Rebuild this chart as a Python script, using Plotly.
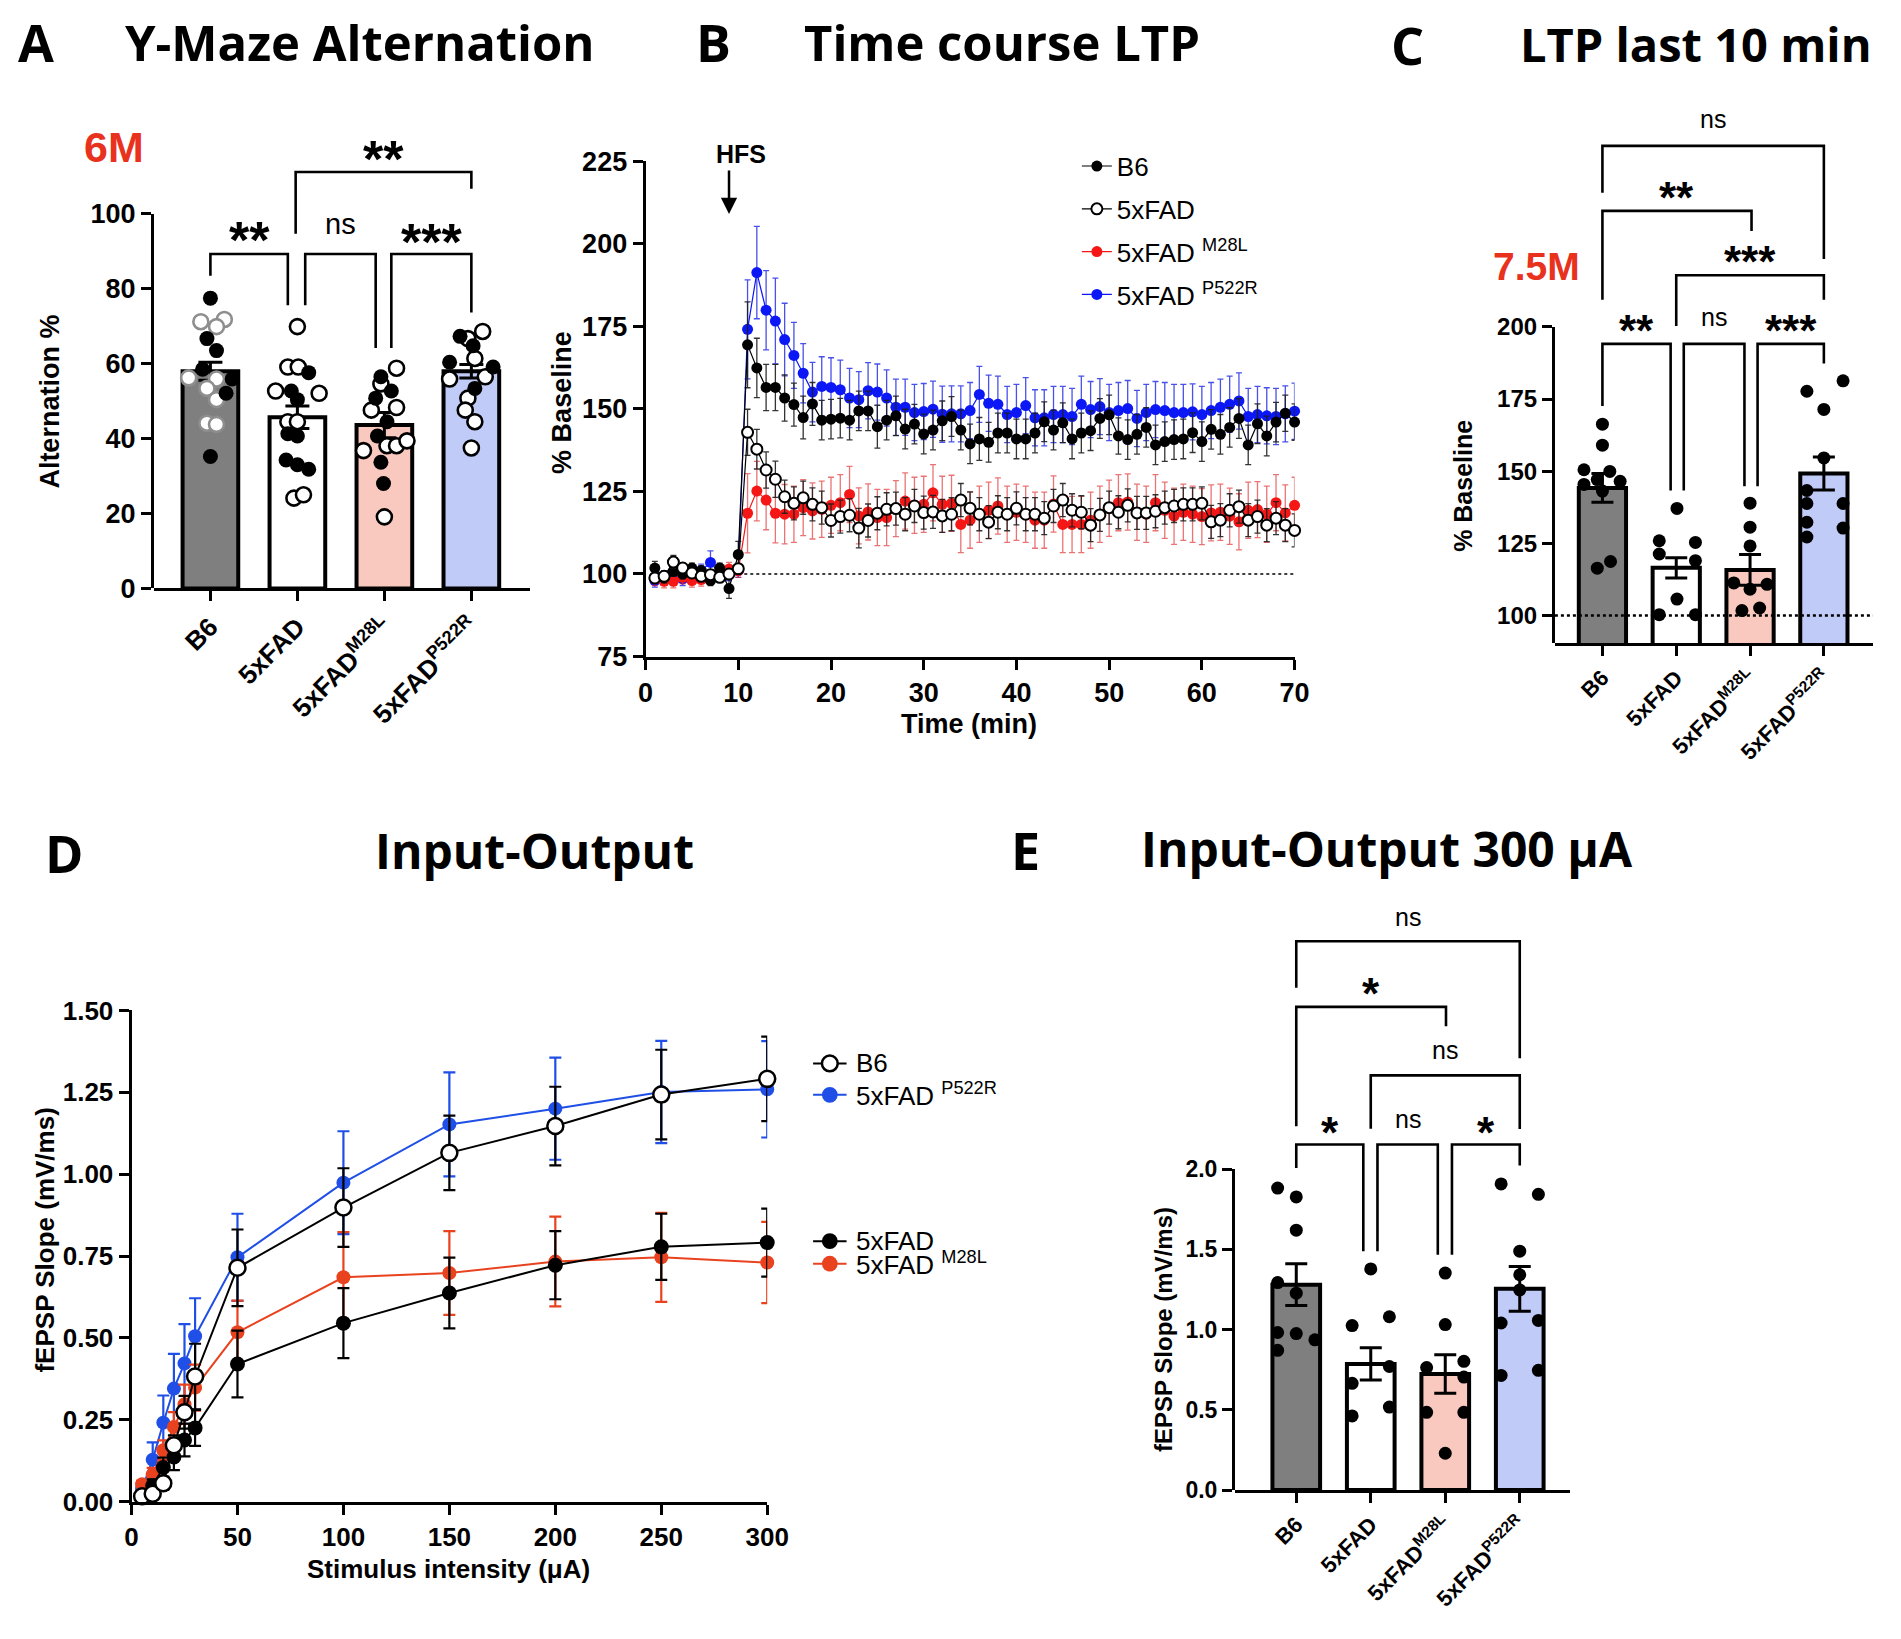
import plotly.graph_objects as go

W, H = 1901, 1639

# ------------------------------------------------------------------ data
groups = ["B6", "5xFAD", "5xFAD<sup>M28L</sup>", "5xFAD<sup>P522R</sup>"]

# A  Y-maze alternation (%)
ymaze_mean = [58.0, 45.7, 43.6, 58.0]
ymaze_sem = [2.4, 3.0, 3.4, 1.8]
ymaze_filled = [[77.5, 66.7, 63.5, 58.5, 55.9, 52.1, 35.2],
                [57.6, 52.7, 50.4, 41.3, 40.7, 34.3, 33.0, 31.8],
                [56.5, 52.7, 50.8, 44.5, 40.7, 33.7, 28.0],
                [67.3, 64.8, 60.4, 59.1, 53.4]]
ymaze_open = [[71.2, 71.8, 69.9, 56.2, 55.9, 53.4, 50.4, 44.1, 43.8],
              [69.9, 59.1, 59.1, 52.7, 52.1, 44.5, 44.5, 24.1, 25.0],
              [58.8, 54.6, 47.6, 48.3, 36.8, 38.1, 38.1, 39.4, 19.1],
              [68.6, 66.7, 61.4, 55.9, 56.5, 50.8, 47.6, 44.5, 37.5]]

# B  time course of LTP (% baseline)
time_min = list(range(1, 71))
ltp_b6 = [101.8, 98.8, 100.8, 100.0, 101.8, 101.0, 98.0, 101.8, 95.6, 105.9,
          169.4, 162.4, 156.5, 156.5, 153.3, 151.3, 147.4, 151.5, 146.6, 146.9,
          147.2, 146.6, 149.4, 149.4, 144.6, 146.6, 147.9, 143.9, 145.4, 142.4,
          143.6, 146.4, 147.7, 143.6, 139.4, 140.9, 139.9, 142.7, 142.7, 140.9,
          140.9, 142.7, 146.1, 143.6, 145.8, 140.9, 142.7, 143.4, 147.1, 148.2,
          141.8, 140.7, 142.3, 144.4, 139.1, 140.1, 140.7, 140.9, 142.8, 140.1,
          143.8, 142.3, 144.4, 147.1, 139.1, 145.5, 141.8, 146.0, 148.7, 146.0]
ltp_5xfad = [98.8, 99.3, 103.6, 101.8, 100.3, 99.3, 99.8, 99.0, 100.0, 101.6,
             142.9, 137.8, 131.5, 128.7, 123.4, 121.4, 123.1, 121.1, 120.1, 116.2,
             117.4, 117.8, 113.9, 116.2, 118.4, 119.6, 119.8, 118.1, 120.6, 118.6,
             118.8, 117.6, 118.1, 122.4, 119.9, 118.1, 115.7, 118.7, 118.1, 119.9,
             118.1, 118.1, 116.9, 120.6, 122.4, 119.3, 118.7, 114.8, 117.9, 120.1,
             118.7, 120.8, 118.5, 118.5, 119.0, 120.1, 120.6, 121.1, 121.1, 121.4,
             115.8, 116.3, 119.3, 120.4, 116.3, 117.4, 114.8, 116.9, 114.8, 113.2]
ltp_m28l = [98.5, 97.8, 97.8, 99.0, 98.0, 98.3, 99.0, 101.0, 101.5, 101.0,
            118.4, 125.1, 122.4, 118.4, 118.1, 118.1, 120.1, 119.1, 119.6, 120.8,
            121.6, 124.1, 117.6, 118.8, 117.1, 117.1, 119.8, 122.1, 120.8, 121.1,
            124.6, 121.1, 121.4, 115.0, 116.3, 118.1, 119.3, 120.6, 118.1, 118.7,
            118.1, 116.3, 116.3, 121.2, 115.0, 115.0, 115.0, 116.3, 118.1, 119.9,
            121.6, 121.8, 118.7, 118.1, 121.6, 119.3, 117.5, 118.7, 118.1, 117.4,
            118.5, 118.7, 117.5, 115.8, 119.3, 119.5, 118.1, 121.6, 118.5, 120.8]
ltp_p522r = [98.0, 99.0, 100.0, 98.5, 99.5, 101.0, 103.5, 100.0, 100.0, 101.0,
             174.1, 191.3, 179.9, 176.6, 171.0, 166.2, 160.8, 155.1, 156.8, 156.5,
             155.8, 153.3, 152.8, 155.5, 155.1, 153.3, 150.5, 150.5, 148.9, 149.2,
             149.9, 148.4, 148.5, 148.5, 149.5, 154.4, 151.7, 151.4, 148.3, 148.9,
             151.0, 147.3, 147.3, 148.3, 148.3, 147.7, 151.4, 149.8, 150.7, 148.9,
             149.5, 150.1, 147.1, 148.9, 149.8, 149.5, 148.9, 148.9, 149.1, 148.3,
             149.5, 150.5, 151.4, 152.4, 147.7, 148.3, 147.9, 147.7, 148.5, 149.3]
sem_b6 = [2.0, 1.5, 1.5, 1.5, 1.5, 1.5, 1.5, 1.5, 3.0, 4.0,
          13.0, 9.0, 7.0, 7.0, 7.0, 6.5, 6.5, 6.5, 6.0, 6.0,
          6.0, 6.0, 6.0, 6.0, 6.5, 6.0, 6.0, 6.0, 6.0, 6.0,
          6.0, 6.0, 6.0, 6.0, 6.0, 6.5, 6.0, 6.0, 6.0, 6.0,
          6.0, 6.0, 6.0, 6.0, 6.0, 6.0, 6.0, 6.0, 6.0, 6.0,
          5.5, 6.0, 6.0, 6.0, 6.0, 6.0, 6.0, 6.0, 6.0, 6.0,
          6.0, 6.0, 6.0, 6.0, 6.0, 6.0, 6.0, 6.0, 5.5, 5.5]
sem_5xfad = [1.5, 1.5, 2.0, 1.5, 1.5, 1.5, 1.5, 1.5, 1.5, 1.5,
             7.0, 6.0, 5.5, 5.5, 5.0, 5.0, 5.0, 5.0, 5.0, 5.0,
             5.0, 5.0, 6.0, 5.0, 5.0, 5.0, 5.0, 5.0, 5.0, 5.0,
             5.0, 5.0, 5.0, 5.0, 5.0, 5.0, 5.0, 5.0, 5.0, 5.0,
             5.0, 5.0, 5.0, 5.0, 5.0, 5.0, 5.0, 5.0, 5.0, 5.0,
             5.0, 5.0, 5.0, 5.0, 5.0, 5.0, 5.0, 5.0, 5.0, 5.0,
             5.0, 5.0, 5.0, 5.0, 5.0, 5.0, 5.0, 5.0, 5.0, 5.0]
sem_m28l = [2.0, 2.0, 2.0, 2.0, 2.0, 2.0, 2.0, 2.0, 2.0, 2.0,
            12.0, 9.0, 9.0, 9.0, 9.0, 8.5, 8.5, 8.5, 8.5, 8.5,
            8.5, 8.5, 8.5, 8.5, 8.5, 8.5, 8.5, 8.5, 8.5, 8.5,
            8.5, 8.5, 8.5, 8.5, 8.5, 8.5, 8.5, 8.5, 8.5, 8.5,
            8.5, 8.5, 8.5, 8.5, 8.5, 8.5, 8.5, 8.5, 8.5, 8.5,
            8.5, 8.5, 8.5, 8.5, 8.5, 8.5, 8.5, 8.5, 8.5, 8.5,
            8.5, 8.5, 8.5, 8.5, 8.5, 8.5, 8.5, 8.5, 8.5, 8.5]
sem_p522r = [2.0, 2.0, 2.0, 2.0, 2.0, 2.0, 3.5, 2.0, 2.0, 2.0,
             15.0, 14.0, 12.0, 13.0, 11.0, 10.0, 9.0, 9.0, 9.0, 9.0,
             9.0, 9.0, 8.5, 8.5, 8.5, 8.5, 8.5, 8.5, 8.5, 8.5,
             8.5, 8.5, 8.5, 8.5, 8.5, 8.5, 8.5, 8.5, 8.5, 8.5,
             8.5, 8.5, 8.5, 8.5, 8.5, 8.5, 8.5, 8.5, 8.5, 8.5,
             8.5, 8.5, 8.5, 8.5, 8.5, 8.5, 8.5, 8.5, 8.5, 8.5,
             8.5, 8.5, 8.5, 8.5, 8.5, 8.5, 8.5, 8.5, 8.5, 8.5]

# C  LTP last 10 min (% baseline)
ltp10_mean = [144.2, 116.5, 115.8, 149.2]
ltp10_sem = [5.0, 3.5, 5.3, 5.7]
ltp10_points = [[166.3, 159.0, 150.5, 149.9, 147.1, 146.5, 145.4, 143.1, 116.4, 118.7],
                [137.1, 125.9, 125.3, 121.3, 119.0, 105.7, 100.3, 100.3],
                [138.9, 130.6, 124.1, 111.3, 109.1, 110.8, 101.7, 102.6],
                [177.7, 181.3, 171.4, 154.6, 143.3, 138.8, 138.8, 132.3, 127.2, 130.3]]

# D  input-output (fEPSP slope, mV/ms)
stim_ua = [5, 10, 15, 20, 25, 30, 50, 100, 150, 200, 250, 300]
io_b6 = [0.016, 0.024, 0.056, 0.172, 0.273, 0.382, 0.714, 0.898, 1.065, 1.147, 1.243, 1.291]
io_b6_sem = [0.01, 0.01, 0.02, 0.03, 0.05, 0.10, 0.117, 0.12, 0.114, 0.12, 0.137, 0.129]
io_5xfad = [0.016, 0.048, 0.104, 0.136, 0.188, 0.225, 0.420, 0.545, 0.637, 0.722, 0.778, 0.791]
io_5xfad_sem = [0.01, 0.02, 0.03, 0.04, 0.05, 0.055, 0.102, 0.107, 0.108, 0.104, 0.101, 0.104]
io_m28l = [0.053, 0.083, 0.157, 0.228, 0.297, 0.348, 0.517, 0.685, 0.698, 0.733, 0.746, 0.730]
io_m28l_sem = [0.01, 0.02, 0.03, 0.045, 0.06, 0.07, 0.097, 0.138, 0.128, 0.137, 0.136, 0.124]
io_p522r = [0.040, 0.128, 0.241, 0.345, 0.422, 0.505, 0.746, 0.974, 1.152, 1.200, 1.251, 1.259]
io_p522r_sem = [0.02, 0.053, 0.083, 0.106, 0.12, 0.116, 0.133, 0.157, 0.159, 0.156, 0.156, 0.147]

# E  input-output at 300 uA
io300_mean = [1.28, 0.786, 0.723, 1.254]
io300_sem = [0.13, 0.10, 0.12, 0.14]
io300_points = [[1.882, 1.827, 1.620, 1.293, 1.227, 0.982, 0.975, 0.936, 0.871],
                [1.378, 1.080, 1.025, 0.770, 0.665, 0.517, 0.462],
                [1.352, 1.031, 0.802, 0.763, 0.704, 0.484, 0.484, 0.229],
                [1.908, 1.843, 1.489, 1.342, 1.247, 1.041, 1.057, 0.714, 0.746]]

# ------------------------------------------------------------ layout helpers
# horizontal scatter offsets of the dots inside each bar (category units)
ymaze_filled_dx = [[0, -0.04, 0.07, -0.09, 0.25, 0.18, 0],
                   [0.13, -0.07, 0, -0.11, 0, -0.13, 0, 0.13],
                   [-0.04, 0.08, -0.1, 0.03, -0.08, -0.04, -0.01],
                   [-0.13, 0.02, -0.25, 0.25, 0.04]]
ymaze_open_dx = [[-0.11, 0.16, 0.07, -0.25, 0.07, -0.04, 0.07, -0.04, 0.07],
                 [0, -0.11, 0.01, -0.25, 0.25, -0.11, 0, -0.04, 0.07],
                 [0.14, -0.04, -0.15, 0.14, -0.24, 0.03, 0.14, 0.26, 0],
                 [0.13, -0.04, 0.04, -0.25, 0.16, -0.04, -0.07, 0.04, 0]]
ltp10_dx = [[0, 0, -0.25, 0.1, -0.07, 0.24, -0.25, 0.0, -0.07, 0.11],
            [0.01, -0.23, 0.26, -0.23, 0.26, 0.01, -0.23, 0.26],
            [0, 0, 0, -0.22, 0, 0.23, -0.11, 0.13],
            [-0.23, 0.26, 0, 0, -0.23, 0.26, -0.23, -0.23, -0.23, 0.26]]
io300_dx = [[-0.25, 0, 0, -0.25, 0, -0.25, 0, 0.25, -0.25],
            [0, 0.25, -0.25, 0.25, -0.25, 0.25, -0.25],
            [0, 0, 0.25, -0.25, 0.25, -0.25, 0.25, 0],
            [-0.25, 0.25, 0, 0, 0, -0.25, 0.25, -0.25, 0.25]]

# significance brackets: x0, x1, top, left-leg end, right-leg end, label, label centre
brackets_A = [(0, 0.89, 89.3, 83.5, 75.6, "**", 96.0),
              (1.09, 1.90, 89.3, 75.6, 64.2, "ns", 96.6),
              (2.08, 3.0, 89.3, 64.2, 73.7, "***", 95.3),
              (0.98, 3.0, 111.2, 94.7, 106.7, "**", 117.5)]
brackets_C = [(0, 0.924, 194.1, 172.6, 143.3, "**", 201.8),
              (1.102, 1.924, 194.1, 143.3, 144.8, "ns", 202.6),
              (2.102, 3.0, 194.1, 144.8, 187.3, "***", 201.8),
              (1.0, 3.0, 217.9, 200.3, 209.4, "***", 225.9),
              (0, 2.02, 240.2, 209.4, 233.2, "**", 248.2),
              (0, 3.0, 262.7, 246.5, 223.5, "ns", 271.3)]
brackets_E = [(0, 0.90, 2.154, 2.007, 1.489, "*", 2.288),
              (1.09, 1.90, 2.154, 1.489, 1.466, "ns", 2.301),
              (2.09, 3.0, 2.154, 1.466, 2.023, "*", 2.288),
              (1.0, 3.0, 2.585, 2.252, 2.25, "ns", 2.732),
              (0, 2.01, 3.012, 2.268, 2.891, "*", 3.152),
              (0, 3.0, 3.421, 3.131, 2.691, "ns", 3.559)]

bar_colors = ["#7f7f7f", "#ffffff", "#f9c9bf", "#c1cbf8"]
ARIAL = "Liberation Sans"
TITLE = "Open Sans"


def xd(p0, p1):
    return [p0 / W, p1 / W]


def yd(top, bottom):
    return [1 - bottom / H, 1 - top / H]


def px(x, y):
    return x / W, 1 - y / H


fig = go.Figure()

# ------------------------------------------------------------------ panel A
fig.add_trace(go.Bar(x=[0, 1, 2, 3], y=ymaze_mean, width=0.64,
                     marker=dict(color=bar_colors, line=dict(color="black", width=4)),
                     error_y=dict(type="data", array=ymaze_sem, color="black", thickness=3, width=12),
                     xaxis="x", yaxis="y", showlegend=False, hoverinfo="skip"))
for g in range(4):
    fig.add_trace(go.Scatter(x=[g + d for d in ymaze_open_dx[g]], y=ymaze_open[g], mode="markers",
                             marker=dict(size=15, color="white",
                                         line=dict(color="#8e8e8e" if g == 0 else "black", width=2.6)),
                             xaxis="x", yaxis="y", showlegend=False, cliponaxis=False))
    fig.add_trace(go.Scatter(x=[g + d for d in ymaze_filled_dx[g]], y=ymaze_filled[g], mode="markers",
                             marker=dict(size=15, color="black"),
                             xaxis="x", yaxis="y", showlegend=False, cliponaxis=False))
fig.add_trace(go.Scatter(x=[], y=[], xaxis="x", yaxis="y6", showlegend=False))

# ------------------------------------------------------------------ panel B
b_series = [
    ("5xFAD <sup>P522R</sup>", ltp_p522r, sem_p522r, "#0b17f5", "#0b17f5", "rgba(40,50,230,0.85)", 4),
    ("5xFAD <sup>M28L</sup>", ltp_m28l, sem_m28l, "#f51616", "#f51616", "rgba(225,40,40,0.65)", 3),
    ("B6", ltp_b6, sem_b6, "black", "black", "rgba(30,30,30,0.9)", 1),
    ("5xFAD", ltp_5xfad, sem_5xfad, "white", "black", "rgba(30,30,30,0.9)", 2),
]
for name, yv, ev, fillc, linec, errc, rank in b_series:
    fig.add_trace(go.Scatter(x=time_min, y=yv, mode="lines+markers", name=name,
                             legendgroup=name, legendrank=rank,
                             line=dict(color=linec, width=1.2),
                             marker=dict(size=11, color=fillc,
                                         line=dict(color=linec, width=2 if fillc == "white" else 0)),
                             error_y=dict(type="data", array=ev, color=errc, thickness=1.3, width=3),
                             xaxis="x2", yaxis="y2", cliponaxis=False, showlegend=True))
fig.add_shape(type="line", x0=10, x1=70, y0=100, y1=100, xref="x2", yref="y2",
              line=dict(color="black", width=1.5, dash="dot"))

# ------------------------------------------------------------------ panel C
fig.add_trace(go.Bar(x=[0, 1, 2, 3], y=ltp10_mean, width=0.64,
                     marker=dict(color=bar_colors, line=dict(color="black", width=4)),
                     error_y=dict(type="data", array=ltp10_sem, color="black", thickness=3, width=11),
                     xaxis="x3", yaxis="y3", showlegend=False, hoverinfo="skip"))
for g in range(4):
    fig.add_trace(go.Scatter(x=[g + d for d in ltp10_dx[g]], y=ltp10_points[g], mode="markers",
                             marker=dict(size=13, color="black"),
                             xaxis="x3", yaxis="y3", showlegend=False, cliponaxis=False))
fig.add_trace(go.Scatter(x=[], y=[], xaxis="x3", yaxis="y7", showlegend=False))
C_XR = [-0.644, 3.667]
fig.add_shape(type="line", x0=C_XR[0], x1=C_XR[1], y0=100, y1=100, xref="x3", yref="y3",
              line=dict(color="black", width=2.5, dash="dot"))

# ------------------------------------------------------------------ panel D
d_series = [
    (io_p522r, io_p522r_sem, "#1f4fe6", "#1f4fe6", 14),
    (io_m28l, io_m28l_sem, "#e8421e", "#e8421e", 14),
    (io_5xfad, io_5xfad_sem, "black", "black", 15),
    (io_b6, io_b6_sem, "white", "black", 16),
]
for yv, ev, fillc, linec, ms in d_series:
    fig.add_trace(go.Scatter(x=stim_ua, y=yv, mode="lines+markers",
                             line=dict(color=linec, width=2),
                             marker=dict(size=ms, color=fillc,
                                         line=dict(color=linec, width=2.5 if fillc == "white" else 0)),
                             error_y=dict(type="data", array=ev, color=linec, thickness=2.2, width=6),
                             xaxis="x4", yaxis="y4", cliponaxis=False, showlegend=False))

# ------------------------------------------------------------------ panel E
fig.add_trace(go.Bar(x=[0, 1, 2, 3], y=io300_mean, width=0.64,
                     marker=dict(color=bar_colors, line=dict(color="black", width=4)),
                     error_y=dict(type="data", array=io300_sem, color="black", thickness=3, width=11),
                     xaxis="x5", yaxis="y5", showlegend=False, hoverinfo="skip"))
for g in range(4):
    fig.add_trace(go.Scatter(x=[g + d for d in io300_dx[g]], y=io300_points[g], mode="markers",
                             marker=dict(size=13, color="black"),
                             xaxis="x5", yaxis="y5", showlegend=False, cliponaxis=False))
fig.add_trace(go.Scatter(x=[], y=[], xaxis="x5", yaxis="y8", showlegend=False))

# ------------------------------------------------------------------ brackets
annotations = []


def add_brackets(brs, xref, yref, star_fs, ns_fs):
    for x0, x1, top, l0, l1, lab, ly in brs:
        fig.add_shape(type="path", path=f"M {x0},{l0} L {x0},{top} L {x1},{top} L {x1},{l1}",
                      xref=xref, yref=yref, line=dict(color="black", width=2.6))
        star = lab != "ns"
        fs = star_fs if star else ns_fs
        annotations.append(dict(x=(x0 + x1) / 2, y=ly, xref=xref, yref=yref, text=lab, showarrow=False,
                                xanchor="center", yanchor="middle",
                                yshift=-0.21 * fs if star else 0.09 * fs,
                                font=dict(family=ARIAL, size=fs, color="black",
                                          weight="bold" if star else "normal")))


add_brackets(brackets_A, "x", "y", 52, 29)
add_brackets(brackets_C, "x3", "y3", 44, 25)
add_brackets(brackets_E, "x5", "y5", 44, 25)

# ------------------------------------------------------------------ axes
tick_common = dict(ticks="outside", ticklen=10, tickwidth=3, tickcolor="black", showgrid=False,
                   zeroline=False, linecolor="black", linewidth=3)


def tf(size):
    return dict(family=ARIAL, size=size, color="black", weight="bold")


A_XR = [-0.649, 3.67]
E_XR = [-0.822, 3.67]
fig.update_layout(
    xaxis=dict(domain=xd(148.3, 530), range=A_XR, anchor="y", showline=True,
               tickvals=[0, 1, 2, 3], ticktext=groups, tickangle=-45, tickfont=tf(26), **tick_common),
    yaxis=dict(domain=yd(107.2, 584.1), range=[0, 125], anchor="x", visible=False),
    yaxis6=dict(domain=yd(202.6, 584.1), range=[0, 100], anchor="x", showline=True,
                tickvals=[0, 20, 40, 60, 80, 100], tickfont=tf(27), **tick_common),
    xaxis2=dict(domain=xd(647.8, 1307.2), range=[0, 70], anchor="y2", showline=True,
                tickvals=[0, 10, 20, 30, 40, 50, 60, 70], tickfont=tf(27), **tick_common),
    yaxis2=dict(domain=yd(149, 653.5), range=[75, 225], anchor="x2", showline=True,
                tickvals=[75, 100, 125, 150, 175, 200, 225], tickfont=tf(27), **tick_common),
    xaxis3=dict(domain=xd(1571.7, 1895), range=C_XR, anchor="y3", showline=True,
                tickvals=[0, 1, 2, 3], ticktext=groups, tickangle=-45, tickfont=tf(22), **tick_common),
    yaxis3=dict(domain=yd(82.5, 640), range=[90.37, 280], anchor="x3", visible=False),
    yaxis7=dict(domain=yd(317.7, 640), range=[90.37, 200], anchor="x3", showline=True,
                tickvals=[100, 125, 150, 175, 200], tickfont=tf(24), **tick_common),
    xaxis4=dict(domain=xd(125.5, 771.4), range=[0, 300], anchor="y4", showline=True,
                tickvals=[0, 50, 100, 150, 200, 250, 300], tickfont=tf(26), **tick_common),
    yaxis4=dict(domain=yd(1014, 1514.3), range=[0, 1.5], anchor="x4", showline=True,
                tickvals=[0, 0.25, 0.5, 0.75, 1.0, 1.25, 1.5], tickformat=".2f", tickfont=tf(26),
                **tick_common),
    xaxis5=dict(domain=xd(1246.7, 1586.7), range=E_XR, anchor="y5", showline=True,
                tickvals=[0, 1, 2, 3], ticktext=groups, tickangle=-45, tickfont=tf(22), **tick_common),
    yaxis5=dict(domain=yd(889.75, 1502.5), range=[0, 3.75], anchor="x5", visible=False),
    yaxis8=dict(domain=yd(1175.6, 1502.5), range=[0, 2], anchor="x5", showline=True,
                tickvals=[0, 0.5, 1.0, 1.5, 2.0], tickformat=".1f", tickfont=tf(23), **tick_common),
)

# ------------------------------------------------------------------ text
def add_text(text, x, y, size, family=ARIAL, weight="bold", color="black", angle=0, xanchor="center"):
    ax, ay = px(x, y)
    annotations.append(dict(x=ax, y=ay, xref="paper", yref="paper", text=text, showarrow=False,
                            xanchor=xanchor, yanchor="middle", textangle=angle,
                            font=dict(family=family, size=size, color=color, weight=weight)))


for letter, x, y in [("A", 28.5, 27), ("B", 717, 27), ("C", 1422, 30), ("D", 57, 853), ("E", 1034, 850)]:
    add_text(letter, x, y, 52, family=TITLE)
add_text("Y-Maze Alternation", 357.5, 27, 49, family=TITLE)
add_text("Time course LTP", 1010, 27, 49, family=TITLE)
add_text("LTP last 10 min", 1715, 30, 47, family=TITLE)
add_text("Input-Output", 535, 851, 48, family=TITLE)
add_text("Input-Output 300 μA", 1401, 849, 48, family=TITLE)

add_text("6M", 107.5, 134.5, 43, color="#e8321e")
add_text("7.5M", 1553.5, 256.5, 39, color="#e8321e")

add_text("Alternation %", 42.5, 394, 27, angle=-90)
add_text("% Baseline", 563, 395, 27, angle=-90)
add_text("Time (min)", 976, 722, 27)
add_text("% Baseline", 1479, 480, 25, angle=-90)
add_text("fEPSP Slope (mV/ms)", 38, 1248, 26, angle=-90)
add_text("Stimulus intensity (μA)", 448, 1583, 26)
add_text("fEPSP Slope (mV/ms)", 1174, 1339, 24, angle=-90)

# HFS arrow (tip just above the baseline points at minute 9) and its label
annotations.append(dict(x=9, y=209.0, xref="x2", yref="y2", text="", showarrow=True,
                        ax=0, ay=-45, arrowhead=2, arrowsize=1.3, arrowwidth=2.5, arrowcolor="black"))
annotations.append(dict(x=9, y=209.0, xref="x2", yref="y2", text="HFS", showarrow=False,
                        xshift=12, yshift=60, yanchor="middle",
                        font=dict(family=ARIAL, size=25, color="black", weight="bold")))

# legend of panel D drawn by hand
d_legend = [("B6", 1068, "white", "black"),
            ("5xFAD <sup>P522R</sup>", 1100, "#1f4fe6", "#1f4fe6"),
            ("5xFAD", 1249, "black", "black"),
            ("5xFAD <sup>M28L</sup>", 1272, "#e8421e", "#e8421e")]
for text, yy, fillc, linec in d_legend:
    x0, y0 = px(818, yy)
    x1, _ = px(852, yy)
    fig.add_shape(type="line", x0=x0, x1=x1, y0=y0, y1=y0, xref="paper", yref="paper",
                  line=dict(color=linec, width=2))
    cx0, cy0 = px(835 - 8, yy - 8)
    cx1, cy1 = px(835 + 8, yy + 8)
    fig.add_shape(type="circle", x0=cx0, x1=cx1, y0=cy1, y1=cy0, xref="paper", yref="paper",
                  fillcolor=fillc, line=dict(color=linec, width=2.5 if fillc == "white" else 0))
    add_text(text, 860, yy, 26, weight="normal", xanchor="left")

fig.update_layout(
    width=W, height=H, margin=dict(l=0, r=0, t=0, b=0),
    paper_bgcolor="white", plot_bgcolor="rgba(0,0,0,0)",
    annotations=annotations,
    showlegend=True,
    legend=dict(x=1086 / W, y=1 - 130 / H, xanchor="left", yanchor="top",
                font=dict(family=ARIAL, size=26, color="black"), bgcolor="rgba(0,0,0,0)",
                tracegroupgap=6, traceorder="grouped", itemsizing="trace"),
)

fig.write_html("out.html", config={"displayModeBar": False},
               post_script="document.body.style.margin='0px';document.body.style.overflow='hidden';")
